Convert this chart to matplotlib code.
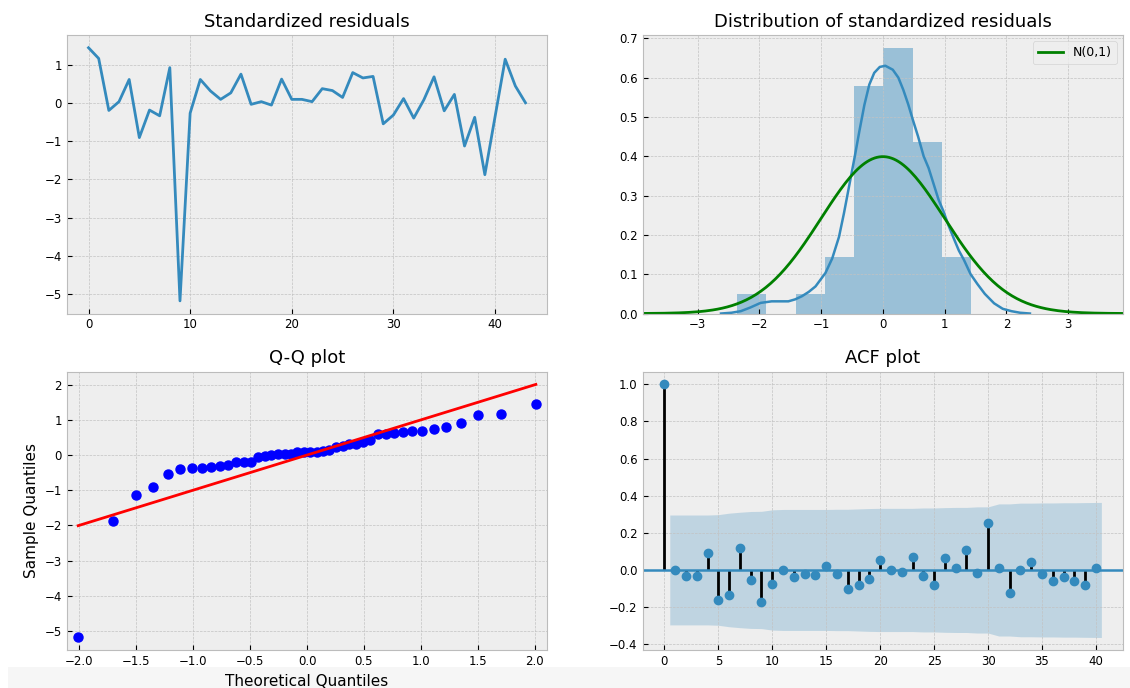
import numpy as np
import matplotlib
matplotlib.use('Agg')
import matplotlib.pyplot as plt
from matplotlib.patches import Rectangle

plt.style.use('bmh')
plt.rcParams['grid.color'] = '#c2c2c2'

# standardized residuals
resid = [1.44, 1.16, -0.20, 0.03, 0.61, -0.91, -0.19, -0.34, 0.92, -5.18,
         -0.27, 0.61, 0.31, 0.09, 0.26, 0.75, -0.04, 0.03, -0.06, 0.62,
         0.09, 0.09, 0.03, 0.37, 0.32, 0.14, 0.79, 0.65, 0.69, -0.55,
         -0.32, 0.11, -0.40, 0.08, 0.68, -0.21, 0.22, -1.13, -0.38, -1.88,
         -0.37, 1.14, 0.44, 0.00]

# histogram of the distribution panel
hist_edges = [-2.36, -1.89, -1.41, -0.94, -0.46, 0.01, 0.48, 0.96, 1.43]
hist_heights = [0.05, 0.0, 0.05, 0.145, 0.578, 0.675, 0.435, 0.145]

# kde curve
kde_x = [-2.62, -2.45, -2.30, -2.15, -1.98, -1.80, -1.65, -1.53, -1.42, -1.31,
         -1.20, -1.09, -0.93, -0.82, -0.71, -0.63, -0.55, -0.46, -0.38, -0.30,
         -0.22, -0.14, -0.05, 0.04, 0.16, 0.25, 0.33, 0.41, 0.49, 0.57,
         0.66, 0.74, 0.82, 0.90, 0.98, 1.06, 1.15, 1.23, 1.31, 1.42,
         1.53, 1.65, 1.80, 1.94, 2.08, 2.22, 2.38]
kde_y = [0.0, 0.002, 0.006, 0.015, 0.027, 0.031, 0.031, 0.031, 0.036, 0.044,
         0.055, 0.069, 0.103, 0.14, 0.195, 0.255, 0.321, 0.395, 0.464, 0.53,
         0.582, 0.612, 0.627, 0.63, 0.62, 0.60, 0.569, 0.532, 0.49, 0.45,
         0.40, 0.37, 0.33, 0.29, 0.26, 0.225, 0.19, 0.16, 0.137, 0.10,
         0.075, 0.05, 0.026, 0.012, 0.006, 0.002, 0.0]

# theoretical normal quantiles for 44 observations
theo_q = [-2.009, -1.701, -1.501, -1.348, -1.221, -1.111, -1.013, -0.924, -0.842, -0.765,
          -0.692, -0.623, -0.557, -0.493, -0.431, -0.371, -0.312, -0.253, -0.197, -0.140,
          -0.084, -0.028, 0.028, 0.084, 0.140, 0.197, 0.253, 0.312, 0.371, 0.431,
          0.493, 0.557, 0.623, 0.692, 0.765, 0.842, 0.924, 1.013, 1.111, 1.221,
          1.348, 1.501, 1.701, 2.009]

# autocorrelations, lags 0..40
acf_vals = [1.0, 0.0, -0.03, -0.03, 0.09, -0.16, -0.135, 0.12, -0.055, -0.175,
            -0.075, 0.0, -0.04, -0.02, -0.025, 0.02, -0.02, -0.10, -0.08, -0.05,
            0.052, 0.0, -0.01, 0.072, -0.03, -0.08, 0.066, 0.013, 0.11, -0.018,
            0.254, 0.013, -0.125, 0.0, 0.043, -0.023, -0.06, -0.038, -0.059, -0.08,
            0.01]
# half width of the confidence band, lags 1..40
conf_band = [0.296, 0.296, 0.296, 0.296, 0.298, 0.306, 0.311, 0.315, 0.316, 0.324,
             0.326, 0.326, 0.326, 0.326, 0.326, 0.327, 0.327, 0.329, 0.331, 0.332,
             0.332, 0.332, 0.332, 0.334, 0.334, 0.336, 0.337, 0.337, 0.340, 0.340,
             0.356, 0.356, 0.360, 0.360, 0.361, 0.361, 0.362, 0.362, 0.363, 0.364]

blue = '#348ABD'

fig, axes = plt.subplots(2, 2, figsize=(11.3, 6.88), dpi=100)
fig.patch.set_facecolor('white')
fig.subplots_adjust(left=0.059, right=0.994, top=0.949, bottom=0.055,
                    wspace=0.198, hspace=0.209)
fig.patches.append(Rectangle((0.007, 0), 0.993, 0.03, transform=fig.transFigure,
                             facecolor='#f6f6f6', edgecolor='none', zorder=-1))

title_fs = 13
label_fs = 11
tick_fs = 8.5

# standardized residuals
ax = axes[0][0]
ax.plot(range(len(resid)), resid, color=blue, linewidth=2)
ax.set_title('Standardized residuals', fontsize=title_fs)

# distribution
ax = axes[0][1]
ax.bar(hist_edges[:-1], hist_heights, width=np.diff(hist_edges), align='edge',
       color=blue, alpha=0.45, linewidth=0)
ax.plot(kde_x, kde_y, color=blue, linewidth=1.8)
xn = np.linspace(-3.89, 3.89, 200)
ax.plot(xn, np.exp(-xn ** 2 / 2) / np.sqrt(2 * np.pi), color='g', linewidth=2,
        label='N(0,1)')
ax.set_xlim(-3.89, 3.89)
ax.set_ylim(0, 0.708)
ax.set_xticks([-3, -2, -1, 0, 1, 2, 3])
ax.legend(loc='upper right', fontsize=9)
ax.set_title('Distribution of standardized residuals', fontsize=title_fs)

# Q-Q plot
ax = axes[1][0]
ax.plot(theo_q, np.sort(resid), 'o', color='b', markersize=6.5)
ax.plot([theo_q[0], theo_q[-1]], [theo_q[0], theo_q[-1]], color='r', linewidth=2)
ax.set_xlim(-2.11, 2.11)
ax.set_ylim(-5.55, 2.37)
ax.set_xticks(np.arange(-2.0, 2.01, 0.5))
ax.set_xlabel('Theoretical Quantiles', fontsize=label_fs)
ax.set_ylabel('Sample Quantiles', fontsize=label_fs)
ax.set_title('Q-Q plot', fontsize=title_fs)

# ACF plot
ax = axes[1][1]
lags = np.arange(len(acf_vals))
ax.vlines(lags, 0, acf_vals, colors='black', linewidth=2)
ax.axhline(0, color=blue, linewidth=1.8)
ax.plot(lags, acf_vals, 'o', color=blue, markersize=6)
band_x = lags[1:].astype(float)
band_x[0] -= 0.5
band_x[-1] += 0.5
ax.fill_between(band_x, -np.array(conf_band), conf_band, color=blue, alpha=0.25,
                linewidth=0)
ax.set_xticks(range(0, 41, 5))
ax.set_title('ACF plot', fontsize=title_fs)

for ax in axes.flat:
    ax.tick_params(labelsize=tick_fs)

fig.savefig('out.png', dpi=100)
